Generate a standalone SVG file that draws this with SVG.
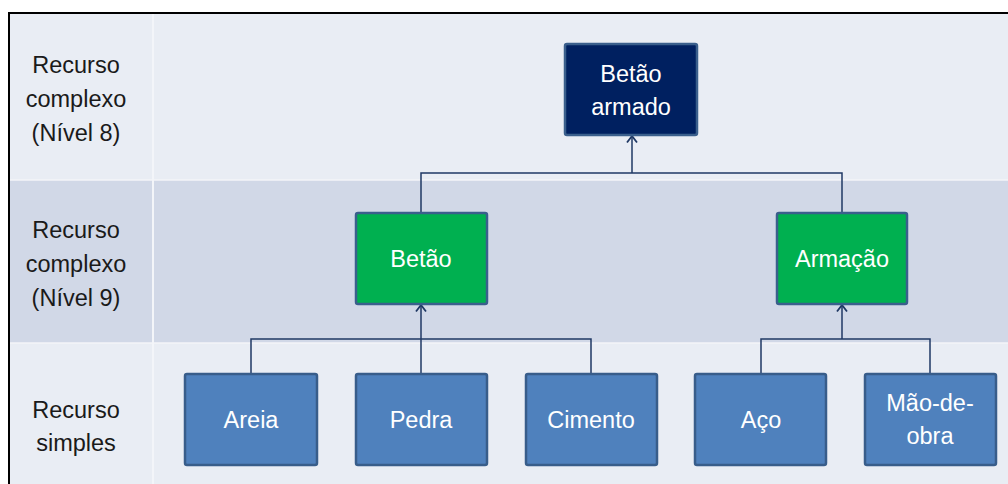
<svg xmlns="http://www.w3.org/2000/svg" width="1008" height="484" viewBox="0 0 1008 484">
  <defs>
    <style>
      .lbl { font-family: "Liberation Sans", Arial, sans-serif; font-size: 23.5px; fill: #1a1a1a; text-anchor: middle; }
      .ntx { font-family: "Liberation Sans", Arial, sans-serif; font-size: 23.5px; fill: #ffffff; text-anchor: middle; }
      .blue { fill: #4f81bd; stroke: #385d8a; stroke-width: 2.5; }
      .green { fill: #00b050; stroke: #3a5f8c; stroke-width: 2.5; }
      .navy { fill: #002060; stroke: #3a5f8c; stroke-width: 2.5; }
      .wire { fill: none; stroke: #1f3864; stroke-width: 1.5; }
    </style>
    <!-- open chevron head, drawn along +x so orient="auto" turns it with the line -->
    <marker id="arrow" viewBox="0 0 12 12" refX="11" refY="6" markerWidth="12" markerHeight="12" markerUnits="userSpaceOnUse" orient="auto">
      <path d="M4.5,1 L11,6 L4.5,11" fill="none" stroke="#1f3864" stroke-width="1.8"/>
    </marker>
  </defs>

  <rect x="0" y="0" width="1008" height="484" fill="#ffffff"/>

  <!-- level bands -->
  <g id="bands">
    <rect x="10" y="14" width="998" height="166" fill="#e9edf4"/>
    <rect x="10" y="180" width="998" height="163" fill="#d1d8e7"/>
    <rect x="10" y="343" width="998" height="141" fill="#e9edf4"/>
    <line x1="10" y1="180" x2="1008" y2="180" stroke="#f3f5f9" stroke-width="1.5"/>
    <line x1="10" y1="343" x2="1008" y2="343" stroke="#f3f5f9" stroke-width="1.5"/>
    <line x1="153" y1="14" x2="153" y2="484" stroke="#f3f5f9" stroke-width="2"/>
  </g>

  <!-- outer frame -->
  <g id="frame" stroke="#000000" stroke-width="2" fill="none">
    <line x1="8" y1="13" x2="1008" y2="13"/>
    <line x1="9" y1="13" x2="9" y2="484"/>
  </g>

  <!-- level captions -->
  <g id="caption-level8">
    <text class="lbl" x="76" y="73">Recurso</text>
    <text class="lbl" x="76" y="107">complexo</text>
    <text class="lbl" x="76" y="141">(Nível 8)</text>
  </g>
  <g id="caption-level9">
    <text class="lbl" x="76" y="238">Recurso</text>
    <text class="lbl" x="76" y="272">complexo</text>
    <text class="lbl" x="76" y="306">(Nível 9)</text>
  </g>
  <g id="caption-simple">
    <text class="lbl" x="76" y="418">Recurso</text>
    <text class="lbl" x="76" y="451">simples</text>
  </g>

  <!-- connectors -->
  <g id="connectors">
    <polyline class="wire" points="421,213 421,173 842,173 842,213"/>
    <line class="wire" x1="632" y1="173" x2="632" y2="136" marker-end="url(#arrow)"/>
    <polyline class="wire" points="251,373 251,339 591,339 591,373"/>
    <line class="wire" x1="421" y1="373" x2="421" y2="305" marker-end="url(#arrow)"/>
    <polyline class="wire" points="761,373 761,339 930,339 930,373"/>
    <line class="wire" x1="842" y1="339" x2="842" y2="305" marker-end="url(#arrow)"/>
  </g>

  <!-- nodes -->
  <g id="node-betao-armado">
    <rect class="navy" x="565" y="44" width="132" height="91" rx="2"/>
    <text class="ntx" x="631" y="82">Betão</text>
    <text class="ntx" x="631" y="115">armado</text>
  </g>
  <g id="node-betao">
    <rect class="green" x="356" y="213" width="131" height="91" rx="2"/>
    <text class="ntx" x="421" y="267">Betão</text>
  </g>
  <g id="node-armacao">
    <rect class="green" x="777" y="213" width="130" height="91" rx="2"/>
    <text class="ntx" x="842" y="267">Armação</text>
  </g>
  <g id="node-areia">
    <rect class="blue" x="185" y="374" width="132" height="91" rx="2"/>
    <text class="ntx" x="251" y="428">Areia</text>
  </g>
  <g id="node-pedra">
    <rect class="blue" x="356" y="374" width="131" height="91" rx="2"/>
    <text class="ntx" x="421" y="428">Pedra</text>
  </g>
  <g id="node-cimento">
    <rect class="blue" x="526" y="374" width="131" height="91" rx="2"/>
    <text class="ntx" x="591" y="428">Cimento</text>
  </g>
  <g id="node-aco">
    <rect class="blue" x="695" y="374" width="131" height="91" rx="2"/>
    <text class="ntx" x="761" y="428">Aço</text>
  </g>
  <g id="node-mao-de-obra">
    <rect class="blue" x="865" y="374" width="131" height="91" rx="2"/>
    <text class="ntx" x="930" y="411">Mão-de-</text>
    <text class="ntx" x="930" y="444">obra</text>
  </g>
</svg>
